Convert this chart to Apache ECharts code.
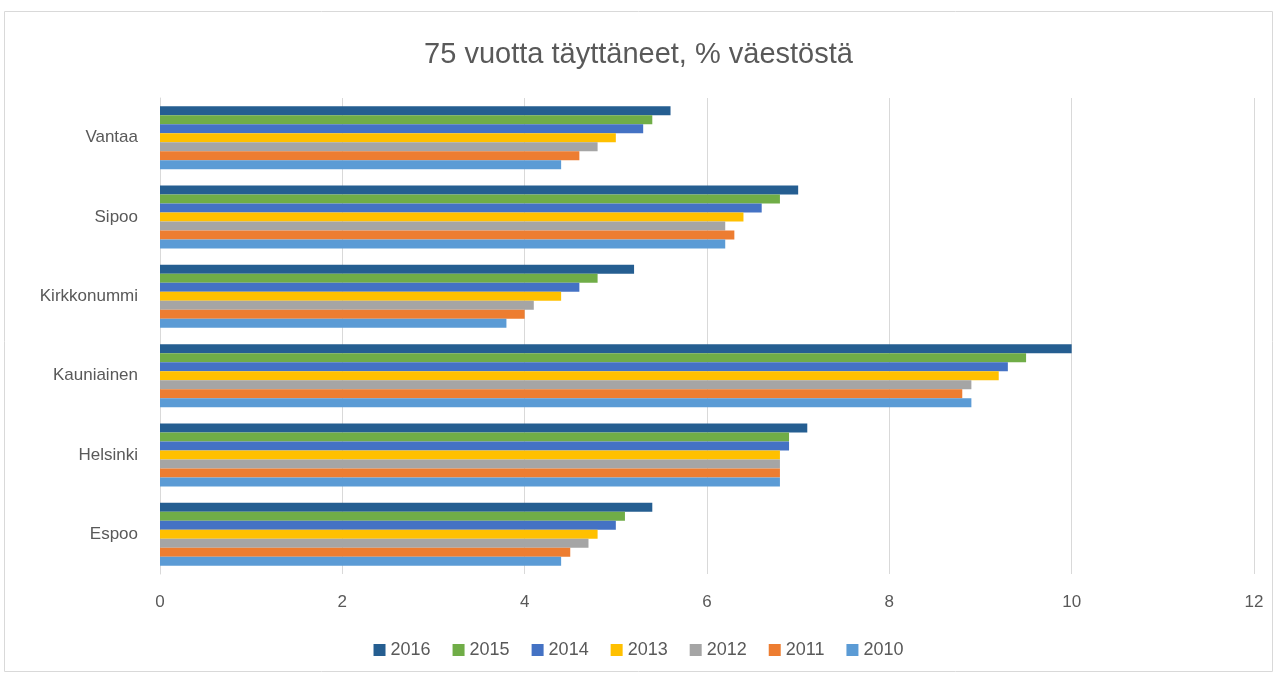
<!DOCTYPE html>
<html>
<head>
<meta charset="utf-8">
<script src="https://cdn.jsdelivr.net/npm/echarts@6/dist/echarts.min.js"></script>
<style>
  html, body { margin: 0; padding: 0; background: #fff; }
  #chart { width: 1277px; height: 675px; }
</style>
</head>
<body>
<div id="chart"></div>
<script>
// kunnat alhaalta ylös (Espoo alimpana)
const cities = ['Espoo', 'Helsinki', 'Kauniainen', 'Kirkkonummi', 'Sipoo', 'Vantaa']

const v2016 = [5.4, 7.1, 10.0, 5.2, 7.0, 5.6]
const v2015 = [5.1, 6.9, 9.5, 4.8, 6.8, 5.4]
const v2014 = [5.0, 6.9, 9.3, 4.6, 6.6, 5.3]
const v2013 = [4.8, 6.8, 9.2, 4.4, 6.4, 5.0]
const v2012 = [4.7, 6.8, 8.9, 4.1, 6.2, 4.8]
const v2011 = [4.5, 6.8, 8.8, 4.0, 6.3, 4.6]
const v2010 = [4.4, 6.8, 8.9, 3.8, 6.2, 4.4]

const years = ['2016', '2015', '2014', '2013', '2012', '2011', '2010']
const yearValues = [v2016, v2015, v2014, v2013, v2012, v2011, v2010]
const colors = ['#255E91', '#70AD47', '#4472C4', '#FFC000', '#A5A5A5', '#ED7D31', '#5B9BD5']

const textColor = '#595959'
const font = 'Liberation Sans'

// ensimmäinen sarja piirtyy ryhmän ylimmäksi
const series = years.map((y, i) => ({
  name: y,
  type: 'bar',
  data: yearValues[i],
  itemStyle: { color: colors[i] },
  barWidth: 9,
  barGap: '0%'
}))

const option = {
  animation: false,
  textStyle: { fontFamily: font },
  title: {
    text: '75 vuotta täyttäneet, % väestöstä',
    left: 'center',
    top: 35,
    textStyle: { color: textColor, fontSize: 29, fontWeight: 'normal', fontFamily: font }
  },
  graphic: [{
    type: 'rect',
    shape: { x: 4.5, y: 11.5, width: 1268, height: 660 },
    style: { fill: 'none', stroke: '#D9D9D9', lineWidth: 1 },
    silent: true
  }],
  legend: {
    data: years,
    bottom: 11,
    left: 'center',
    itemWidth: 12,
    itemHeight: 12,
    itemGap: 22,
    icon: 'rect',
    textStyle: { color: textColor, fontSize: 18, fontFamily: font }
  },
  grid: {
    left: 160,
    right: 23,
    top: 98,
    bottom: 101
  },
  xAxis: {
    type: 'value',
    min: 0,
    max: 12,
    interval: 2,
    axisLine: { show: false },
    axisTick: { show: false },
    axisLabel: { color: textColor, fontSize: 17, margin: 20 },
    splitLine: { lineStyle: { color: '#D9D9D9', width: 1 } }
  },
  yAxis: {
    type: 'category',
    data: cities,
    axisLine: { lineStyle: { color: '#D9D9D9' } },
    axisTick: { show: false },
    axisLabel: { color: textColor, fontSize: 17, margin: 22 }
  },
  series: series
}

const myChart = echarts.init(document.getElementById('chart'))
myChart.setOption(option)
</script>
</body>
</html>
